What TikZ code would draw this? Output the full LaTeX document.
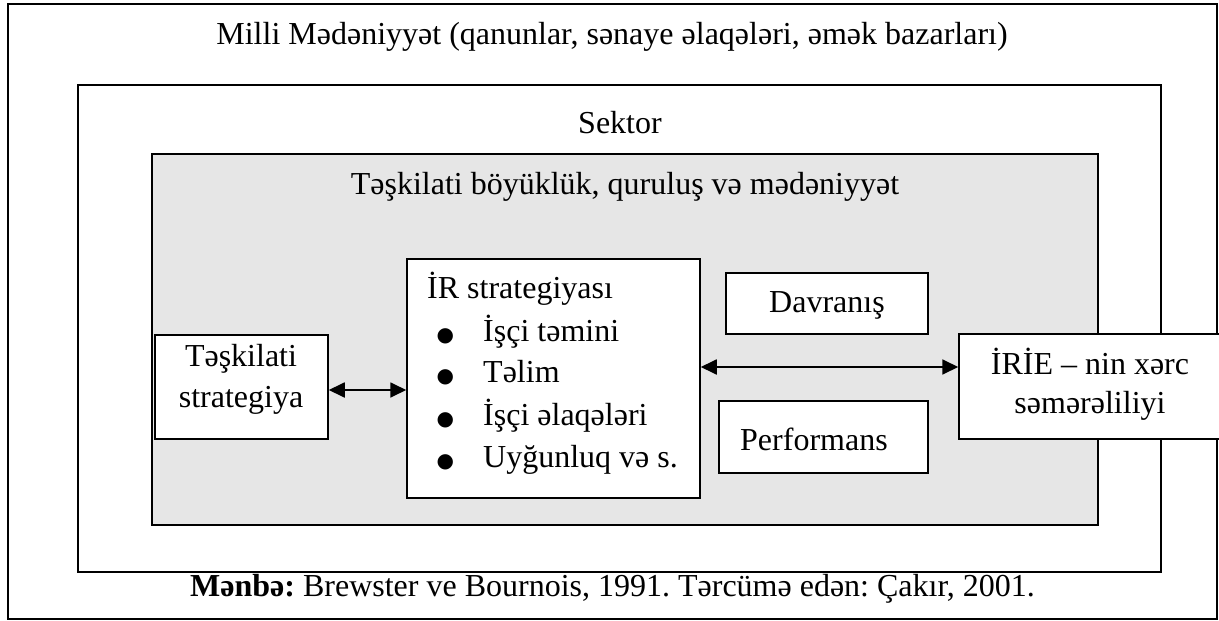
\documentclass[tikz,border=0pt]{standalone}
\usepackage{fontspec}
\setmainfont{Liberation Serif}
\newfontfamily\symfnt{DejaVu Sans}
\usetikzlibrary{arrows.meta}
\definecolor{orggrey}{RGB}{230,230,230}
\newcommand{\blt}{\makebox[47pt][l]{\hspace{0.5pt}{\symfnt\fontsize{20}{20}\selectfont ●}}}
\frenchspacing
\begin{document}
\begin{tikzpicture}[x=1pt,y=-1pt,
  font=\fontsize{32}{42}\selectfont,
  frame/.style={draw=black,line width=1.8pt,fill=white,inner sep=0pt},
  greybox/.style={draw=black,line width=1.5pt,fill=orggrey,inner sep=0pt},
  itembox/.style={draw=black,line width=1.5pt,fill=white,inner sep=0pt},
  txt/.style={anchor=base,inner sep=0pt},
  ltxt/.style={anchor=base west,inner sep=0pt},
  arr/.style={line width=1.8pt,{Triangle[length=16pt,width=15pt]}-{Triangle[length=16pt,width=15pt]}}]
\useasboundingbox (0,0) rectangle (1219,621);
\clip (0,0) rectangle (1219,621);
% frames
\node[frame,minimum width=1209pt,minimum height=615pt] (outer) at (612.5,311.5) {};
\node[frame,minimum width=1083pt,minimum height=487pt] (sektor) at (619.5,328.5) {};
\node[greybox,minimum width=946pt,minimum height=371pt] (org) at (625,339.5) {};
% inner boxes
\node[itembox,minimum width=173pt,minimum height=104pt] (ts) at (241.5,387) {};
\node[itembox,minimum width=293pt,minimum height=239pt] (ir) at (553.5,378.5) {};
\node[itembox,minimum width=202pt,minimum height=61pt] (dav) at (827,303.5) {};
\node[itembox,minimum width=209pt,minimum height=72pt] (perf) at (823.5,437) {};
\node[itembox,minimum width=270pt,minimum height=105pt] (irie) at (1094,386.5) {};
% texts
\node[txt] (t-milli) at (612,44) {Milli Mədəniyyət (qanunlar, sənaye əlaqələri, əmək bazarları)};
\node[txt] (t-sektor) at (620,133) {Sektor};
\node[txt] (t-org) at (625,194) {Təşkilati böyüklük, quruluş və mədəniyyət};
\node[txt] (t-ts1) at (241,366) {Təşkilati};
\node[txt] (t-ts2) at (241,407) {strategiya};
\node[ltxt] (t-ir0) at (427,298) {İR strategiyası};
\node[ltxt] (t-ir1) at (436,341) {\blt İşçi təmini};
\node[ltxt] (t-ir2) at (436,382) {\blt Təlim};
\node[ltxt] (t-ir3) at (436,425) {\blt İşçi əlaqələri};
\node[ltxt] (t-ir4) at (436,467) {\blt Uyğunluq və s.};
\node[txt] (t-dav) at (827,312) {Davranış};
\node[ltxt] (t-perf) at (740,450) {Performans};
\node[txt] (t-irie1) at (1090,374) {İRİE – nin xərc};
\node[txt] (t-irie2) at (1090,413) {səmərəliliyi};
\node[ltxt] (t-src) at (190,596) {\textbf{Mənbə:} Brewster ve Bournois, 1991. Tərcümə edən: Çakır, 2001.};
% arrows
\draw[arr] (ts.east |- 0,390) -- (ir.west |- 0,390);
\draw[arr] (ir.east |- 0,367) -- (irie.west |- 0,367);
\end{tikzpicture}
\end{document}
